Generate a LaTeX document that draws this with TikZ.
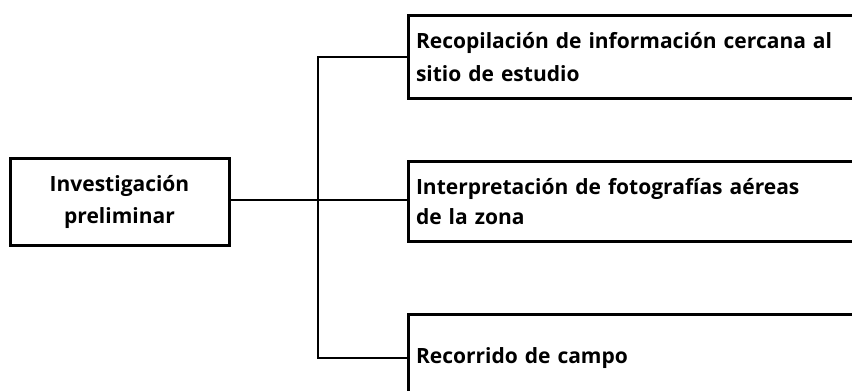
\documentclass[tikz,border=0pt]{standalone}
\usepackage{fontspec}
\setmainfont{Open Sans}
\begin{document}
\begin{tikzpicture}[x=1pt,y=-1pt,
  every node/.style={font=\fontsize{21}{32}\selectfont\bfseries},
  mainbox/.style={draw,line width=3pt,minimum width=219pt,minimum height=87pt,align=center,inner sep=0pt},
  subbox/.style={draw,line width=3pt,anchor=north west,minimum width=470pt,text width=455pt,align=left,inner xsep=6.5pt,inner ysep=0pt},
  conn/.style={line width=1.4pt}]
\useasboundingbox (0,0) rectangle (852,391);
\clip (0,0) rectangle (852,391);
\fill[white] (0,0) rectangle (852,391);
\node[mainbox] (main) at (119.5,201.5) {Investigación\\preliminar};
\node[subbox,minimum height=83pt,font=\fontsize{21}{33}\selectfont\bfseries] (b1) at (407,14) {Recopilación de información cercana al\\sitio de estudio};
\node[subbox,minimum height=80pt,font=\fontsize{21}{30}\selectfont\bfseries,yshift=-1pt] (b2) at (407,159) {Interpretación de fotografías aéreas\\de la zona};
\node[subbox,minimum height=87pt] (b3) at (407,313) {Recorrido de campo};
\coordinate (j) at (318,200);
\draw[conn] (main.east |- j) -- (b2.west |- j);
\draw[conn] (b1.west) -| (j) |- (b3.west);
\end{tikzpicture}
\end{document}
